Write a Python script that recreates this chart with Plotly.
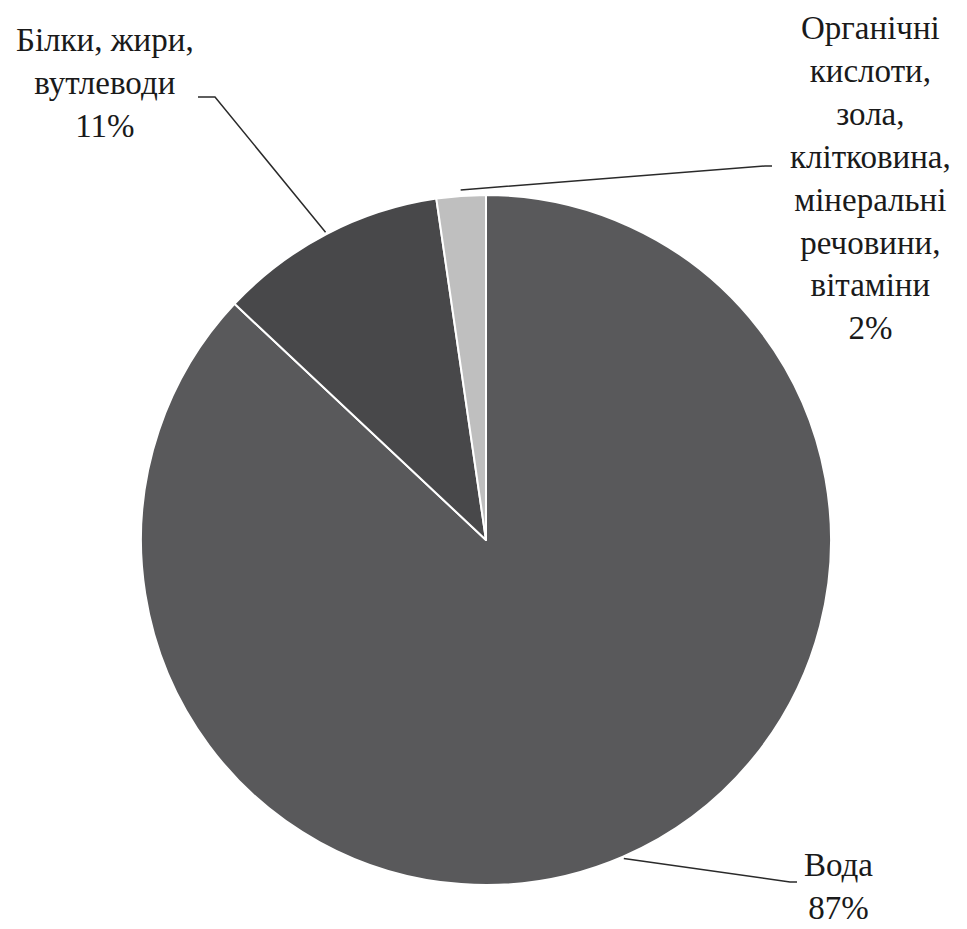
import math
import plotly.graph_objects as go

# Data
categories = ["Вода", "Білки, жири,<br>вутлеводи", "Органічні<br>кислоти,<br>зола,<br>клітковина,<br>мінеральні<br>речовини,<br>вітаміни"]
values = [87.0, 10.7, 2.3]
colors = ["#59595b", "#48484a", "#bfbfbf"]

W, H = 967, 929
CX, CY, R = 486, 540, 345  # pixel centre and radius

fig = go.Figure(go.Pie(
    values=values,
    labels=categories,
    sort=False,
    direction="clockwise",
    rotation=0,
    textinfo="none",
    hoverinfo="label+percent",
    marker=dict(colors=colors, line=dict(color="white", width=2)),
    domain=dict(x=[(CX - R) / W, (CX + R) / W], y=[(H - CY - R) / H, (H - CY + R) / H]),
    showlegend=False,
))

def px(x, y):
    return x / W, 1 - y / H

# leader lines: start at slice mid-angle on circle, go to elbow, then short horizontal
total = sum(values)
elbows = [((790, 882), (797, 882)), ((215, 97), (198, 97)), ((765, 166), (772, 166))]
gaps = [2, 2, 6]
cum = 0
shapes = []
for v, (e1, e2), g in zip(values, elbows, gaps):
    mid = (cum + v / 2) / total * 2 * math.pi
    cum += v
    sx = CX + (R + g) * math.sin(mid)
    sy = CY - (R + g) * math.cos(mid)
    p0, p1, p2 = px(sx, sy), px(*e1), px(*e2)
    shapes.append(dict(type="path", xref="paper", yref="paper",
                       path=f"M {p0[0]},{p0[1]} L {p1[0]},{p1[1]} L {p2[0]},{p2[1]}",
                       line=dict(color="#2a2a2a", width=1.5)))

pcts = [f"{round(v / total * 100)}%" for v in values]
label_pos = [(838, 845, "center"), (105, 20, "center"), (870, 8, "center")]
annotations = []
for cat, pct, (lx, ly, al) in zip(categories, pcts, label_pos):
    x, y = px(lx, ly)
    annotations.append(dict(x=x, y=y, xref="paper", yref="paper", xanchor="center", yanchor="top",
                            text=f"{cat}<br>{pct}", showarrow=False, align=al,
                            font=dict(family="Liberation Serif", size=33, color="#1a1a1a")))

fig.update_layout(
    width=W, height=H,
    margin=dict(l=0, r=0, t=0, b=0),
    paper_bgcolor="white", plot_bgcolor="white",
    shapes=shapes, annotations=annotations,
)
fig.write_html("out.html", config={"displayModeBar": False},
               post_script="document.body.style.margin='0';document.body.style.overflow='hidden';")
